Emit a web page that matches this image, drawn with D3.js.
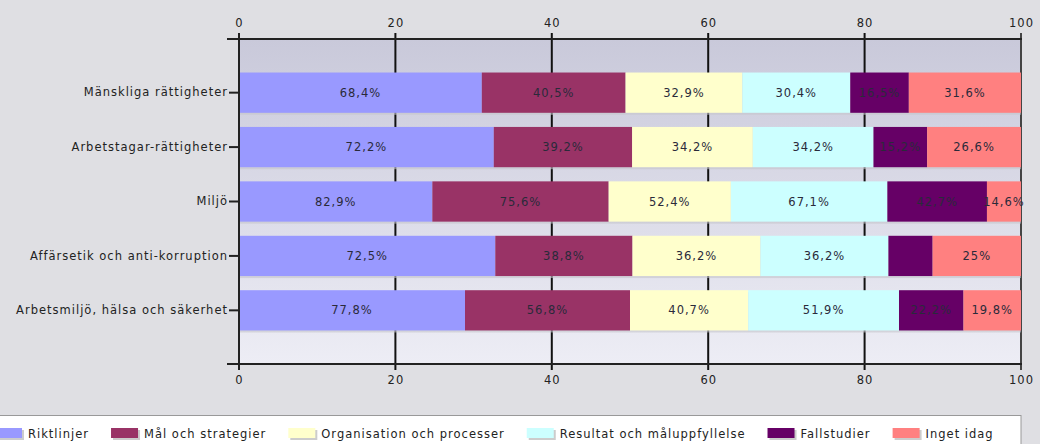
<!DOCTYPE html>
<html>
<head>
<meta charset="utf-8">
<script src="https://cdn.jsdelivr.net/npm/d3@7"></script>
<style>
  html, body { margin: 0; padding: 0; background: #dfdfe3; }
  svg { display: block; font-family: "DejaVu Sans", Verdana, sans-serif; }
  svg text { font-size: 11.5px; letter-spacing: 1px; }
  .tick text { fill: #222; }
</style>
</head>
<body>
<div id="chart"></div>
<script>
// categories (top to bottom) and series, values in % as printed on the bars
const categories = [
    'Mänskliga rättigheter',
    'Arbetstagar-rättigheter',
    'Miljö',
    'Affärsetik och anti-korruption',
    'Arbetsmiljö, hälsa och säkerhet'
];
const seriesNames = ['Riktlinjer', 'Mål och strategier', 'Organisation och processer',
    'Resultat och måluppfyllelse', 'Fallstudier', 'Inget idag'];
const seriesColors = ['#9999ff', '#993366', '#ffffcc', '#ccffff', '#660066', '#ff8080'];

const riktlinjer   = [68.4, 72.2, 82.9, 72.5, 77.8];
const malStrategi  = [40.5, 39.2, 75.6, 38.8, 56.8];
const organisation = [32.9, 34.2, 52.4, 36.2, 40.7];
const resultat     = [30.4, 34.2, 67.1, 36.2, 51.9];
const fallstudier  = [16.5, 15.2, 42.7, 12.5, 22.2];   // 12.5 estimated, no label in source
const ingetIdag    = [31.6, 26.6, 14.6, 25, 19.8];
const seriesValues = [riktlinjer, malStrategi, organisation, resultat, fallstudier, ingetIdag];

const xTicks = [0, 20, 40, 60, 80, 100];
// segments whose value label is not shown in the original
const hiddenLabels = [['Affärsetik och anti-korruption', 'Fallstudier']];

const W = 1040, H = 444;
const plot = { left: 239, right: 1021, top: 39, bottom: 364 };

const rows = categories.map((c, i) => {
    const r = { category: c };
    seriesNames.forEach((s, j) => { r[s] = seriesValues[j][i]; });
    return r;
});

const stacked = d3.stack().keys(seriesNames).offset(d3.stackOffsetExpand)(rows);

const x = d3.scaleLinear().domain([0, 100]).range([plot.left, plot.right]);
const y = d3.scaleBand().domain(categories).range([plot.top, plot.bottom])
    .paddingInner(0.26).paddingOuter(0.616);
const color = d3.scaleOrdinal().domain(seriesNames).range(seriesColors);

const fmt = v => String(v).replace('.', ',') + '%';

const svg = d3.select('#chart').append('svg').attr('width', W).attr('height', H);

const defs = svg.append('defs');
const grad = defs.append('linearGradient').attr('id', 'bg').attr('x1', 0).attr('x2', 0).attr('y1', 0).attr('y2', 1);
grad.append('stop').attr('offset', '0%').attr('stop-color', '#c9c9da');
grad.append('stop').attr('offset', '100%').attr('stop-color', '#ededf5');

svg.append('rect')
    .attr('x', plot.left).attr('y', plot.top)
    .attr('width', plot.right - plot.left).attr('height', plot.bottom - plot.top)
    .attr('fill', 'url(#bg)');

// gridlines
svg.append('g')
    .selectAll('line')
    .data(xTicks)
    .join('line')
    .attr('x1', d => x(d)).attr('x2', d => x(d))
    .attr('y1', plot.top - 6).attr('y2', plot.bottom + 6)
    .attr('stroke', d => d === 100 ? '#444' : '#111')
    .attr('stroke-width', 2);

// soft shadow under each bar row
svg.append('g')
    .selectAll('rect')
    .data(categories)
    .join('rect')
    .attr('x', plot.left).attr('y', d => y(d) + 2)
    .attr('width', plot.right - plot.left).attr('height', y.bandwidth())
    .attr('fill', '#c4c4cc').attr('opacity', 0.6);

// bars
const layer = svg.append('g').selectAll('g')
    .data(stacked)
    .join('g')
    .attr('fill', d => color(d.key));

layer.selectAll('rect')
    .data(d => d)
    .join('rect')
    .attr('x', d => x(d[0] * 100))
    .attr('y', d => y(d.data.category))
    .attr('width', d => x(d[1] * 100) - x(d[0] * 100))
    .attr('height', y.bandwidth());

// value labels
const labelG = svg.append('g')
    .attr('fill', '#2a2a3a')
    .attr('text-anchor', 'middle');

stacked.forEach(s => {
    s.forEach(d => {
        const cat = d.data.category;
        if (hiddenLabels.some(h => h[0] === cat && h[1] === s.key)) return;
        labelG.append('text')
            .attr('x', (x(d[0] * 100) + x(d[1] * 100)) / 2)
            .attr('y', y(cat) + y.bandwidth() / 2)
            .attr('dy', '0.35em')
            .text(fmt(d.data[s.key]));
    });
});

// axes
const topAxis = svg.append('g')
    .attr('transform', `translate(0,${plot.top})`)
    .call(d3.axisTop(x).tickValues(xTicks).tickSize(0).tickPadding(12));
const bottomAxis = svg.append('g')
    .attr('transform', `translate(0,${plot.bottom})`)
    .call(d3.axisBottom(x).tickValues(xTicks).tickSize(0).tickPadding(12));
[topAxis, bottomAxis].forEach(a => {
    a.select('.domain').remove();
    a.selectAll('text').style('font-family', '"DejaVu Sans", Verdana, sans-serif');
});

svg.append('line')
    .attr('x1', plot.left - 12).attr('x2', plot.right + 1)
    .attr('y1', plot.top).attr('y2', plot.top)
    .attr('stroke', '#222').attr('stroke-width', 2);
svg.append('line')
    .attr('x1', plot.left - 12).attr('x2', plot.right + 1)
    .attr('y1', plot.bottom).attr('y2', plot.bottom)
    .attr('stroke', '#222').attr('stroke-width', 2);

const leftAxis = svg.append('g')
    .attr('transform', `translate(${plot.left},0)`)
    .call(d3.axisLeft(y).tickSize(10).tickPadding(1));
leftAxis.select('.domain').remove();
leftAxis.selectAll('line').attr('stroke', '#222').attr('stroke-width', 2);
leftAxis.selectAll('text').style('font-family', '"DejaVu Sans", Verdana, sans-serif');

svg.append('line')
    .attr('x1', plot.left).attr('x2', plot.left)
    .attr('y1', plot.top - 6).attr('y2', plot.bottom + 6)
    .attr('stroke', '#222').attr('stroke-width', 2);

// legend
svg.append('rect')
    .attr('x', -10).attr('y', 415.5)
    .attr('width', plot.right + 10).attr('height', 40)
    .attr('fill', '#fff').attr('stroke', '#999');

const legend = svg.append('g').attr('fill', '#222');
let lx = -5;
seriesNames.forEach(name => {
    const item = legend.append('g').attr('transform', `translate(${lx},428)`);
    item.append('rect').attr('x', 2).attr('y', 2).attr('width', 27).attr('height', 10)
        .attr('fill', '#ccc');
    item.append('rect').attr('width', 27).attr('height', 10).attr('fill', color(name));
    const t = item.append('text').attr('x', 33).attr('y', 9.5).text(name);
    lx += 33 + t.node().getComputedTextLength() + 22;
});
</script>
</body>
</html>
